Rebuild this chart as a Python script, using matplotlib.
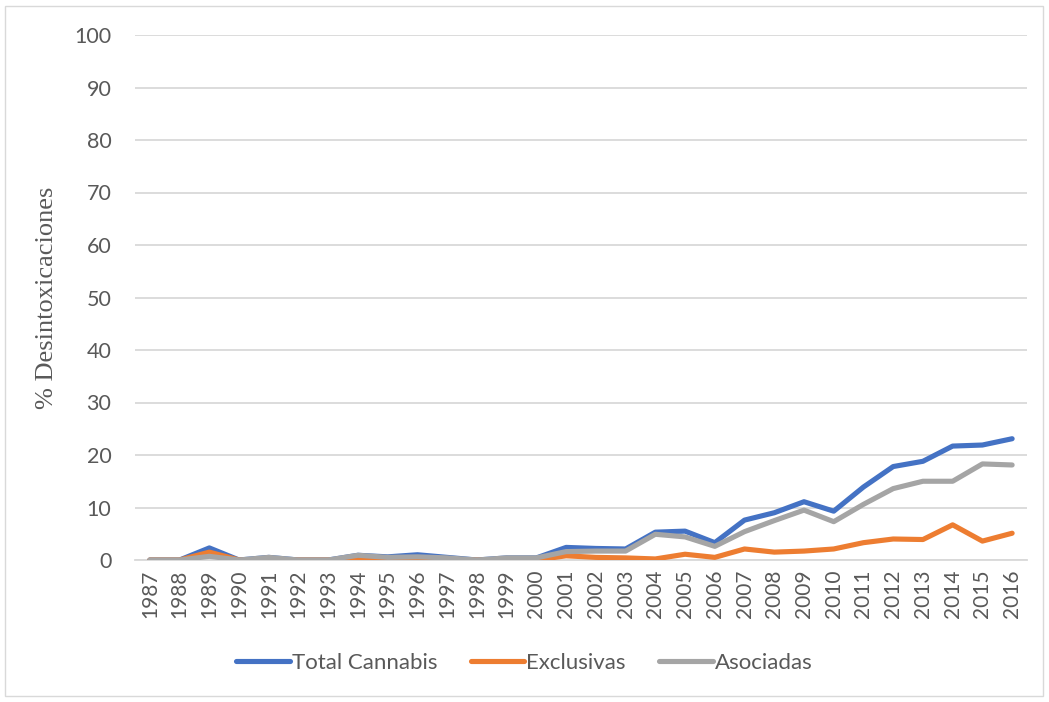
import matplotlib
matplotlib.use('Agg')
import matplotlib.pyplot as plt
from matplotlib.patches import Rectangle

years = list(range(1987, 2017))
total = [0, 0, 2.3, 0, 0.5, 0, 0, 0.9, 0.6, 1.0, 0.5, 0, 0.4, 0.4, 2.4,
         2.2, 2.1, 5.3, 5.5, 3.3, 7.6, 9.0, 11.1, 9.3, 13.9, 17.8, 18.8, 21.7, 21.9, 23.1]
exclusivas = [0, 0, 1.5, 0, 0, 0, 0, 0, 0, 0.2, 0, 0, 0, 0, 0.8,
              0.5, 0.4, 0.2, 1.1, 0.5, 2.1, 1.5, 1.7, 2.1, 3.3, 4.0, 3.9, 6.7, 3.6, 5.1]
asociadas = [0, 0, 0.7, 0, 0.5, 0, 0, 0.9, 0.5, 0.6, 0.4, 0, 0.4, 0.4, 1.6,
             1.7, 1.7, 4.9, 4.4, 2.6, 5.4, 7.5, 9.5, 7.3, 10.6, 13.6, 15.0, 15.0, 18.3, 18.1]
names = ['Total Cannabis', 'Exclusivas', 'Asociadas']
colors = ['#4472C4', '#ED7D31', '#A5A5A5']

plt.rcParams['font.family'] = ['Lato', 'DejaVu Sans']
txt = '#595959'

fig = plt.figure(figsize=(10.49, 7.02), dpi=100)
fig.patches.append(Rectangle((5 / 1049, 6 / 702), 1038 / 1049, 690 / 702, transform=fig.transFigure,
                             fill=False, edgecolor='#D9D9D9', linewidth=1))
ax = fig.add_axes([135 / 1049, 1 - 560 / 702, 892 / 1049, 525 / 702])

for series, name, c in zip([total, exclusivas, asociadas], names, colors):
    ax.plot(years, series, color=c, linewidth=3.7, label=name, solid_capstyle='round', zorder=3)

ax.set_xlim(1986.5, 2016.5)
ax.set_ylim(0, 100)
ax.set_yticks(range(0, 101, 10))
ax.set_xticks(years)
ax.set_xticklabels([str(y) for y in years], rotation=90, fontsize=15, color=txt)
ax.tick_params(axis='y', labelsize=15.5, colors=txt, length=0, pad=17)
ax.tick_params(axis='x', length=0, pad=7)
ax.grid(axis='y', color='#D9D9D9', linewidth=1.3)
ax.set_axisbelow(True)
for s in ['top', 'right', 'left']:
    ax.spines[s].set_visible(False)
ax.spines['bottom'].set_color('#D9D9D9')
ax.spines['bottom'].set_linewidth(1.3)

ax.set_ylabel('% Desintoxicaciones', family='Liberation Serif', fontsize=19, color=txt, labelpad=12)

fig.legend(loc='center', bbox_to_anchor=(0.5, 1 - 663 / 702), ncol=3, frameon=False,
           fontsize=16, labelcolor=txt, handlelength=2.4, handletextpad=0.1, columnspacing=1.5)

fig.savefig('out.png', dpi=100)
